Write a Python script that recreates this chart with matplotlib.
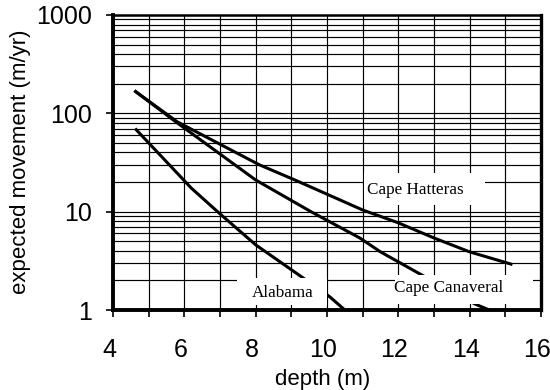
import matplotlib
matplotlib.use('Agg')
import matplotlib.pyplot as plt
from matplotlib.ticker import FixedLocator, NullFormatter, FuncFormatter, LogLocator
from matplotlib.patches import Rectangle
from matplotlib.transforms import ScaledTranslation

# ---- data ----
hatteras_x = [4.6, 5.8, 8.1, 9.1, 11.0, 12.0, 13.0, 14.0, 15.2]
hatteras_y = [170, 82, 30, 21, 10.4, 7.7, 5.4, 3.9, 2.9]
canaveral_x = [4.6, 5.8, 8.0, 9.55, 10.92, 11.5, 12.61, 14.15, 14.55]
canaveral_y = [170, 80, 21, 10, 5.4, 3.9, 2.32, 1.15, 1.0]
alabama_x = [4.62, 6.2, 7.0, 8.0, 9.33, 10.08, 10.5]
alabama_y = [70, 17.3, 9.5, 4.6, 2.12, 1.36, 1.0]

label_text = ['Cape Hatteras', 'Cape Canaveral', 'Alabama']
label_x = [12.49, 13.42, 8.77]
label_y = [16.6, 1.67, 1.49]

x_ticks = [4, 6, 8, 10, 12, 14, 16]
y_ticks = [1, 10, 100, 1000]

# ---- figure ----
fig = plt.figure(figsize=(5.5, 3.9), dpi=100)
ax = fig.add_axes([113/550, 1-310/390, (541-113)/550, (310-15)/390])
ax.set_yscale('log')
ax.set_xlim(4, 16)
ax.set_ylim(1, 1000)

ax.xaxis.set_major_locator(FixedLocator(x_ticks))
ax.xaxis.set_minor_locator(FixedLocator(list(range(5, 16, 2))))
ax.yaxis.set_major_locator(FixedLocator(y_ticks))
ax.yaxis.set_minor_locator(LogLocator(base=10, subs=range(2, 10)))
ax.yaxis.set_major_formatter(FuncFormatter(lambda v, p: '%g' % v))
ax.yaxis.set_minor_formatter(NullFormatter())

# grid
for xv in range(5, 16):
    ax.axvline(xv, color='black', lw=0.85, zorder=1)
ax.grid(True, which='both', axis='y', color='black', lw=0.85, zorder=1)
ax.set_axisbelow(True)

ax.tick_params(axis='x', which='major', direction='out', length=5, width=1.2, pad=15)
ax.tick_params(axis='x', which='minor', direction='out', length=5, width=1.2)
ax.tick_params(axis='y', which='major', direction='out', length=5, width=1.2, pad=10)
ax.tick_params(axis='y', which='minor', length=0)
shift = ScaledTranslation(-4/100, 0, fig.dpi_scale_trans)
for lab in ax.get_xticklabels():
    lab.set_fontfamily('Liberation Sans')
    lab.set_fontsize(18)
    lab.set_transform(lab.get_transform() + shift)
for lab in ax.get_yticklabels():
    lab.set_fontfamily('Liberation Sans')
    lab.set_fontsize(18)

ax.spines['left'].set_linewidth(2.8)
ax.spines['bottom'].set_linewidth(2.8)
ax.spines['right'].set_linewidth(2.4)
ax.spines['top'].set_linewidth(1.8)

for xs, ys in [(hatteras_x, hatteras_y), (canaveral_x, canaveral_y), (alabama_x, alabama_y)]:
    ax.plot(xs, ys, color='black', lw=2.2, zorder=3, solid_capstyle='butt')

# white label boxes (x0, x1, y0, y1)
boxes = [(11.03, 14.43, 11.7, 24.8), (11.91, 15.77, 1.15, 2.27), (7.48, 10.0, 1.12, 2.12)]
for (x0, x1, y0, y1) in boxes:
    ax.add_patch(Rectangle((x0, y0), x1 - x0, y1 - y0, facecolor='white',
                           edgecolor='none', zorder=4))
for t, lx, ly in zip(label_text, label_x, label_y):
    ax.text(lx, ly, t, ha='center', va='center', family='Liberation Serif',
            fontsize=12.3, zorder=5)

fig.text(323/550, 1-380/390, 'depth (m)', ha='center', va='center',
         family='Liberation Sans', fontsize=16)
fig.text(21/550, 1-162/390, 'expected movement (m/yr)', ha='center', va='center',
         rotation=90, family='Liberation Sans', fontsize=16)

fig.savefig('out.png', dpi=100)
